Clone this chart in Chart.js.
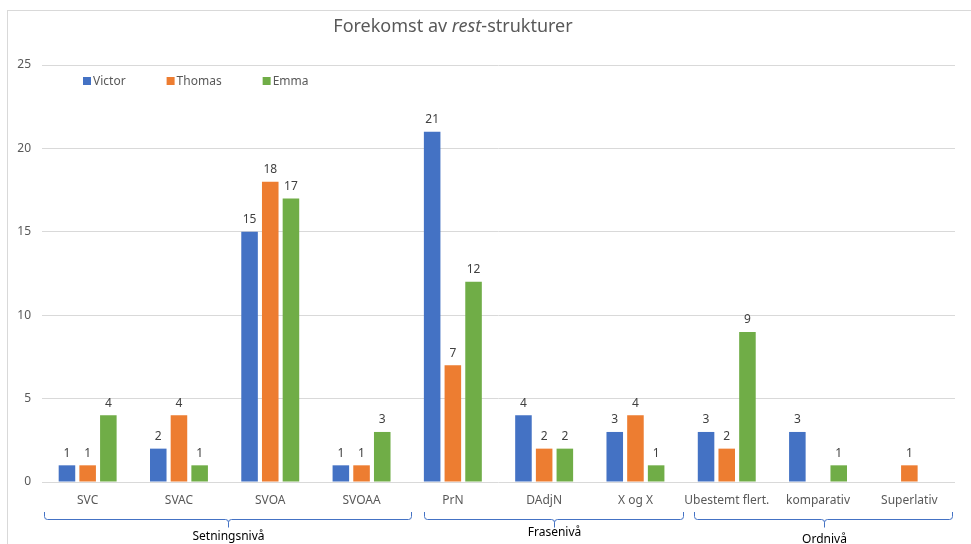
<!DOCTYPE html>
<html>
<head>
<meta charset="utf-8">
<title>Forekomst av rest-strukturer</title>
<script src="https://cdn.jsdelivr.net/npm/chart.js@4/dist/chart.umd.min.js"></script>
<style>
  html, body { margin: 0; padding: 0; background: #fff; overflow: hidden; }
  #wrap { width: 971px; height: 544px; position: relative; }
</style>
</head>
<body>
<div id="wrap"><canvas id="restChart" width="971" height="544"></canvas></div>
<script>
// categories and counts per speaker
var categories = ['SVC', 'SVAC', 'SVOA', 'SVOAA', 'PrN', 'DAdjN', 'X og X', 'Ubestemt flert.', 'komparativ', 'Superlativ'];
var victor = [1, 2, 15, 1, 21, 4, 3, 3, 3, null];
var thomas = [1, 4, 18, 1, 7, 2, 4, 2, null, 1];
var emma   = [4, 1, 17, 3, 12, 2, 1, 9, 1, null];

// category groups under the axis (first and last category index)
var groupLabels = ['Setningsnivå', 'Frasenivå', 'Ordnivå'];
var groupFirst = [0, 4, 7];
var groupLast = [3, 6, 9];

var yTicks = [0, 5, 10, 15, 20, 25];

var FONT = '"Noto Sans", "Open Sans", sans-serif';
var GREY = '#595959';

// outer frame + title with the italic "rest"
var framePlugin = {
    id: 'frame',
    beforeDraw: function(chart) {
        var ctx = chart.ctx;
        ctx.save();
        ctx.strokeStyle = '#d9d9d9';
        ctx.lineWidth = 1;
        ctx.strokeRect(7.5, 10.5, 1200, 800);

        var parts = [
            { t: 'Forekomst av ', f: '18px ' + FONT },
            { t: 'rest', f: 'italic 18px ' + FONT },
            { t: '-strukturer', f: '18px ' + FONT }
        ];
        var total = 0;
        parts.forEach(function(p) { ctx.font = p.f; p.w = ctx.measureText(p.t).width; total += p.w; });
        var x = 453 - total / 2;
        ctx.fillStyle = GREY;
        ctx.textBaseline = 'middle';
        parts.forEach(function(p) {
            ctx.font = p.f;
            ctx.fillText(p.t, x, 27);
            x += p.w;
        });
        ctx.restore();
    }
};

// legend inside the plot, just under the top gridline
var legendPlugin = {
    id: 'insideLegend',
    afterDraw: function(chart) {
        var ctx = chart.ctx;
        var x = 83, y = 81;
        ctx.save();
        ctx.font = '12px ' + FONT;
        ctx.textBaseline = 'middle';
        chart.data.datasets.forEach(function(ds) {
            ctx.fillStyle = ds.backgroundColor;
            ctx.fillRect(x, y - 4, 8, 8);
            ctx.fillStyle = GREY;
            ctx.fillText(ds.label, x + 10, y + 1);
            x += 10 + ctx.measureText(ds.label).width + 41;
        });
        ctx.restore();
    }
};

// value labels above each bar
var valuePlugin = {
    id: 'barValues',
    afterDatasetsDraw: function(chart) {
        var ctx = chart.ctx;
        ctx.save();
        ctx.font = '12px ' + FONT;
        ctx.fillStyle = '#404040';
        ctx.textAlign = 'center';
        ctx.textBaseline = 'bottom';
        chart.data.datasets.forEach(function(ds, i) {
            var meta = chart.getDatasetMeta(i);
            meta.data.forEach(function(bar, j) {
                var v = ds.data[j];
                if (v === null || v === undefined) return;
                ctx.fillText(String(v), bar.x, bar.y - 6);
            });
        });
        ctx.restore();
    }
};

// brackets and group names below the category labels
var groupPlugin = {
    id: 'groupBrackets',
    afterDraw: function(chart, args, opts) {
        var ctx = chart.ctx;
        var xs = chart.scales.x;
        var half = (xs.right - xs.left) / categories.length / 2;
        ctx.save();
        ctx.strokeStyle = '#4472C4';
        ctx.lineWidth = 1;
        groupLabels.forEach(function(label, g) {
            var a = Math.round(xs.getPixelForValue(groupFirst[g]) - half + opts.startShift[g]) + 0.5;
            var b = Math.round(xs.getPixelForValue(groupLast[g]) + half + opts.endShift[g]) + 0.5;
            var mid = Math.round((a + b) / 2) + 0.5;
            var top = 512, base = 519.5, r = 3;
            ctx.beginPath();
            ctx.moveTo(a, top);
            ctx.lineTo(a, base - r);
            ctx.quadraticCurveTo(a, base, a + r, base);
            ctx.lineTo(mid - r, base);
            ctx.quadraticCurveTo(mid, base, mid, base + r);
            ctx.lineTo(mid, base + 8);
            ctx.moveTo(mid, base + r);
            ctx.quadraticCurveTo(mid, base, mid + r, base);
            ctx.lineTo(b - r, base);
            ctx.quadraticCurveTo(b, base, b, base - r);
            ctx.lineTo(b, top);
            ctx.stroke();

            ctx.font = '12px ' + FONT;
            ctx.fillStyle = '#000';
            ctx.textAlign = 'center';
            ctx.textBaseline = 'middle';
            ctx.fillText(label, mid, opts.labelY[g]);
        });
        ctx.restore();
    }
};

var ctx = document.getElementById('restChart');

var chart = new Chart(ctx, {
    type: 'bar',
    data: {
        labels: categories,
        datasets: [
            { label: 'Victor', data: victor, backgroundColor: '#4472C4' },
            { label: 'Thomas', data: thomas, backgroundColor: '#ED7D31' },
            { label: 'Emma', data: emma, backgroundColor: '#70AD47' }
        ]
    },
    options: {
        responsive: false,
        animation: false,
        devicePixelRatio: 1,
        layout: { padding: { top: 65, right: 16, left: 0, bottom: 0 } },
        datasets: {
            bar: { categoryPercentage: 0.68, barPercentage: 0.8, borderWidth: 0 }
        },
        plugins: {
            legend: { display: false },
            title: { display: false },
            tooltip: { enabled: false },
            groupBrackets: {
                labelY: [537, 533, 540],
                startShift: [2, 17, 13],
                endShift: [4, 2, -3]
            }
        },
        scales: {
            x: {
                grid: { display: false, drawTicks: false },
                border: { display: false },
                ticks: { color: GREY, font: { family: FONT, size: 12 }, padding: 11, maxRotation: 0, autoSkip: false },
                afterFit: function(s) { s.height = 62; }
            },
            y: {
                min: 0,
                max: 25,
                afterBuildTicks: function(s) { s.ticks = yTicks.map(function(v) { return { value: v }; }); },
                grid: { color: '#d9d9d9', drawTicks: false },
                border: { display: false },
                ticks: { color: GREY, font: { family: FONT, size: 12 }, padding: 11 },
                afterFit: function(s) { s.width = 42; }
            }
        }
    },
    plugins: [framePlugin, legendPlugin, valuePlugin, groupPlugin]
});
</script>
</body>
</html>
